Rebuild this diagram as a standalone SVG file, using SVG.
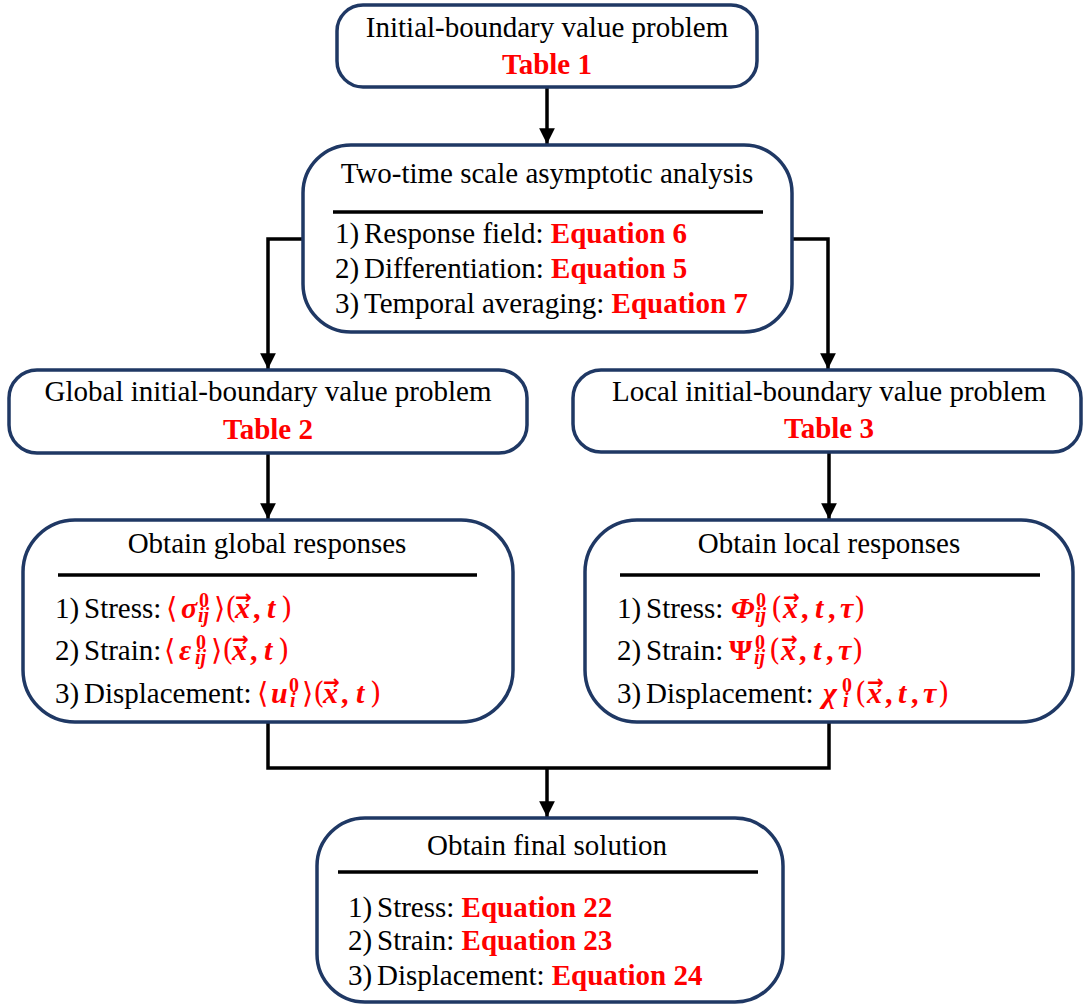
<svg xmlns="http://www.w3.org/2000/svg" width="1086" height="1005" viewBox="0 0 1086 1005">
<defs>
<style>
.box{fill:#ffffff;stroke:#1f3864;stroke-width:3.5}
.t{font-family:"Liberation Serif","Times New Roman",serif;font-size:29px;fill:#000}
.c{text-anchor:middle}
.r{font-family:"Liberation Serif","Times New Roman",serif;font-weight:bold;fill:#ff0000;font-size:29px}
.m{font-family:"Liberation Serif","DejaVu Serif",serif;font-weight:bold;fill:#ff0000;font-size:30px}
.mi{font-style:italic}
.br{font-family:"DejaVu Serif",serif;font-weight:normal;font-size:29px}
.s{font-size:20px}
.vec{font-family:"DejaVu Sans",sans-serif;font-weight:bold;font-style:normal;font-size:20px}
.sep{stroke:#000;stroke-width:3.5}
.ln{fill:none;stroke:#000;stroke-width:3.5}
</style>
<marker id="ah" viewBox="0 0 10 10" refX="10" refY="5" markerWidth="4.5" markerHeight="4.5" markerUnits="strokeWidth" orient="auto">
<path d="M0,0 L10,5 L0,10 z" fill="#000"/>
</marker>
</defs>

<g id="connectors">
<line class="ln" x1="547" y1="87" x2="547" y2="144" marker-end="url(#ah)"/>
<polyline class="ln" points="303,239 268,239 268,369" marker-end="url(#ah)"/>
<polyline class="ln" points="792,239 828,239 828,369" marker-end="url(#ah)"/>
<line class="ln" x1="268" y1="453" x2="268" y2="519" marker-end="url(#ah)"/>
<line class="ln" x1="829" y1="452" x2="829" y2="519" marker-end="url(#ah)"/>
<polyline class="ln" points="268,722 268,768 829,768 829,722"/>
<line class="ln" x1="547" y1="768" x2="547" y2="817" marker-end="url(#ah)"/>
</g>

<g id="node-ibvp">
<rect class="box" x="337" y="5" width="420" height="82" rx="26"/>
<text class="t c" x="547" y="37">Initial-boundary value problem</text>
<text class="r c" x="547" y="74">Table 1</text>
</g>

<g id="node-two-time">
<rect class="box" x="303" y="145" width="489" height="187" rx="48"/>
<text class="t c" x="547" y="183">Two-time scale asymptotic analysis</text>
<line class="sep" x1="333" y1="212" x2="763" y2="212"/>
<text class="t" y="243"><tspan x="335">1)</tspan><tspan x="364">Response field: </tspan><tspan class="r">Equation 6</tspan></text>
<text class="t" y="278"><tspan x="335">2)</tspan><tspan x="364">Differentiation: </tspan><tspan class="r">Equation 5</tspan></text>
<text class="t" y="313"><tspan x="335">3)</tspan><tspan x="364">Temporal averaging: </tspan><tspan class="r">Equation 7</tspan></text>
</g>

<g id="node-global-ibvp">
<rect class="box" x="9" y="370" width="518" height="83" rx="28"/>
<text class="t c" x="268" y="401">Global initial-boundary value problem</text>
<text class="r c" x="268" y="439">Table 2</text>
</g>

<g id="node-local-ibvp">
<rect class="box" x="573" y="370" width="508" height="82" rx="28"/>
<text class="t c" x="829" y="401">Local initial-boundary value problem</text>
<text class="r c" x="829" y="438">Table 3</text>
</g>

<g id="node-global-resp">
<rect class="box" x="23" y="520" width="490" height="202" rx="52"/>
<text class="t c" x="267" y="553">Obtain global responses</text>
<line class="sep" x1="58" y1="575" x2="477" y2="575"/>
<text class="t" y="618"><tspan x="55">1)</tspan><tspan x="84">Stress:</tspan></text>
<text class="t" y="660"><tspan x="55">2)</tspan><tspan x="84">Strain:</tspan></text>
<text class="t" y="703"><tspan x="55">3)</tspan><tspan x="84">Displacement:</tspan></text>
<text class="m"><tspan class="br" x="166" y="618">⟨</tspan><tspan class="mi" x="181" y="618">σ</tspan><tspan class="s" x="199" y="607">0</tspan><tspan class="s mi" x="198" y="622">ij</tspan><tspan class="br" x="214" y="618">⟩(</tspan><tspan class="mi" x="235" y="618">x</tspan><tspan class="vec" x="235" y="604">→</tspan><tspan x="253" y="618">,</tspan><tspan class="mi" x="267" y="618">t</tspan><tspan class="br" x="281" y="618">)</tspan></text>
<text class="m"><tspan class="br" x="164" y="660">⟨</tspan><tspan class="mi" x="179" y="660">ε</tspan><tspan class="s" x="196" y="649">0</tspan><tspan class="s mi" x="195" y="664">ij</tspan><tspan class="br" x="211" y="660">⟩(</tspan><tspan class="mi" x="232" y="660">x</tspan><tspan class="vec" x="232" y="646">→</tspan><tspan x="250" y="660">,</tspan><tspan class="mi" x="264" y="660">t</tspan><tspan class="br" x="278" y="660">)</tspan></text>
<text class="m"><tspan class="br" x="257" y="703">⟨</tspan><tspan class="mi" x="271" y="703">u</tspan><tspan class="s" x="289" y="692">0</tspan><tspan class="s mi" x="290" y="707">i</tspan><tspan class="br" x="302" y="703">⟩(</tspan><tspan class="mi" x="323" y="703">x</tspan><tspan class="vec" x="323" y="689">→</tspan><tspan x="341" y="703">,</tspan><tspan class="mi" x="356" y="703">t</tspan><tspan class="br" x="370" y="703">)</tspan></text>
</g>

<g id="node-local-resp">
<rect class="box" x="585" y="520" width="488" height="202" rx="52"/>
<text class="t c" x="829" y="553">Obtain local responses</text>
<line class="sep" x1="620" y1="575" x2="1040" y2="575"/>
<text class="t" y="618"><tspan x="617">1)</tspan><tspan x="646">Stress:</tspan></text>
<text class="t" y="660"><tspan x="617">2)</tspan><tspan x="646">Strain:</tspan></text>
<text class="t" y="703"><tspan x="617">3)</tspan><tspan x="646">Displacement:</tspan></text>
<text class="m"><tspan class="mi" x="731" y="618">Φ</tspan><tspan class="s" x="756" y="607">0</tspan><tspan class="s mi" x="755" y="622">ij</tspan><tspan class="br" x="771" y="618">(</tspan><tspan class="mi" x="783" y="618">x</tspan><tspan class="vec" x="783" y="604">→</tspan><tspan x="801" y="618">,</tspan><tspan class="mi" x="815" y="618">t</tspan><tspan x="828" y="618">,</tspan><tspan class="mi" x="840" y="618">τ</tspan><tspan class="br" x="854" y="618">)</tspan></text>
<text class="m"><tspan x="729" y="660">Ψ</tspan><tspan class="s" x="755" y="649">0</tspan><tspan class="s mi" x="754" y="664">ij</tspan><tspan class="br" x="769" y="660">(</tspan><tspan class="mi" x="781" y="660">x</tspan><tspan class="vec" x="781" y="646">→</tspan><tspan x="799" y="660">,</tspan><tspan class="mi" x="813" y="660">t</tspan><tspan x="826" y="660">,</tspan><tspan class="mi" x="838" y="660">τ</tspan><tspan class="br" x="852" y="660">)</tspan></text>
<text class="m"><tspan class="mi" x="823" y="703">χ</tspan><tspan class="s" x="842" y="692">0</tspan><tspan class="s mi" x="843" y="707">i</tspan><tspan class="br" x="855" y="703">(</tspan><tspan class="mi" x="867" y="703">x</tspan><tspan class="vec" x="867" y="689">→</tspan><tspan x="885" y="703">,</tspan><tspan class="mi" x="898" y="703">t</tspan><tspan x="911" y="703">,</tspan><tspan class="mi" x="923" y="703">τ</tspan><tspan class="br" x="938" y="703">)</tspan></text>
</g>

<g id="node-final">
<rect class="box" x="317" y="818" width="466" height="184" rx="48"/>
<text class="t c" x="547" y="855">Obtain final solution</text>
<line class="sep" x1="338" y1="872" x2="758" y2="872"/>
<text class="t" y="917"><tspan x="348">1)</tspan><tspan x="377">Stress: </tspan><tspan class="r">Equation 22</tspan></text>
<text class="t" y="950"><tspan x="348">2)</tspan><tspan x="377">Strain: </tspan><tspan class="r">Equation 23</tspan></text>
<text class="t" y="985"><tspan x="348">3)</tspan><tspan x="377">Displacement: </tspan><tspan class="r">Equation 24</tspan></text>
</g>
</svg>
